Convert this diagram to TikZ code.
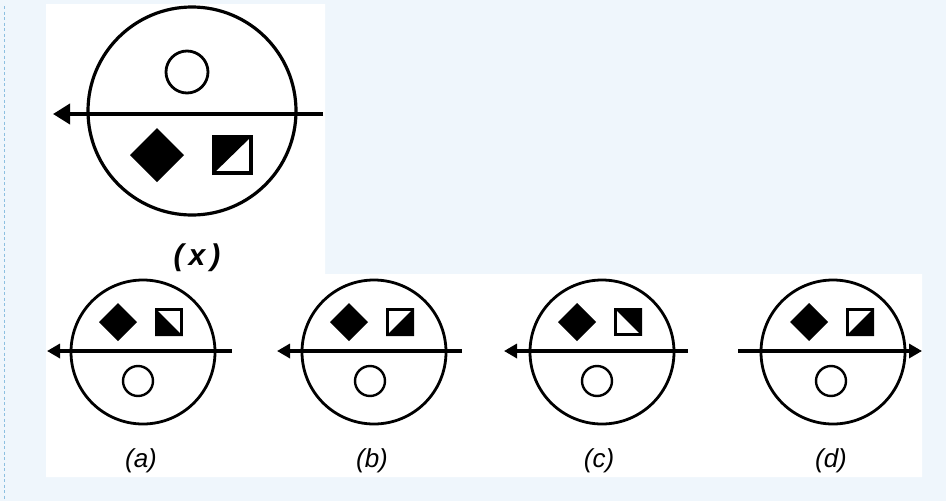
\documentclass[tikz,border=0pt]{standalone}
\usepackage{fontspec}
\setsansfont{Liberation Sans}
\usetikzlibrary{arrows.meta}
\definecolor{bgblue}{HTML}{EFF6FC}
\definecolor{dashblue}{HTML}{8CBFE0}
\tikzset{
  ring/.style={draw=black, line width=2.8pt},
  bigaxis/.style={draw=black, line width=3.8pt, -{Triangle[length=17pt,width=20pt]}},
  axis/.style={draw=black, line width=3.3pt, -{Triangle[length=13pt,width=14pt]}},
  dot/.style={draw=black, line width=2.4pt, fill=white},
  sqline/.style={draw=black, line width=3.4pt},
  lbl/.style={font=\sffamily\itshape\fontsize{26}{28}\selectfont, inner sep=0pt, text=black},
  biglbl/.style={font=\sffamily\bfseries\itshape\fontsize{30}{32}\selectfont, inner sep=0pt, text=black}
}
\begin{document}
\begin{tikzpicture}[x=1pt,y=-1pt]
\useasboundingbox (0,0) rectangle (946,501);
\fill[bgblue] (0,0) rectangle (946,501);
\fill[white] (46,4) -- (325,4) -- (325,274) -- (922,274) -- (922,477) -- (46,477) -- cycle;
\draw[dashblue, line width=1.2pt, dash pattern=on 3pt off 2.5pt] (4.5,6) -- (4.5,501);

% ---- question figure (x)
\begin{scope}[shift={(192,111)}]
  \draw[ring, line width=3.2pt] (0,0) circle (104);
  \draw[dot, line width=2.8pt] (-5,-39) circle (21);
  \draw[bigaxis] (131,3) -- (-139,3);
  \fill[black] (-35,17) -- (-8,44) -- (-35,71) -- (-62,44) -- cycle;
  % white lower-right
  \fill[black] (20,24) -- (61,24) -- (20,64) -- cycle;
  \draw[sqline, line width=4.4pt] (22.2,26.2) rectangle (58.8,61.8);
\end{scope}
\node[biglbl] (lx) at (197,258) {(\,x\,)};

% ---- option (a)
\begin{scope}[shift={(143,352)}]
  \draw[ring] (0,0) circle (72);
  \draw[axis] (89,-1) -- (-96,-1);
  \fill[black] (-25,-49) -- (-6,-30) -- (-25,-11) -- (-44,-30) -- cycle;
  % white upper-right
  \fill[black] (12,-44) -- (40,-16) -- (12,-16) -- cycle;
  \draw[sqline] (13.7,-42.3) rectangle (38.3,-17.7);
  \draw[dot] (-5,29) circle (15);
\end{scope}
\node[lbl] (la) at (141,461) {(a)};

% ---- option (b)
\begin{scope}[shift={(374,352)}]
  \draw[ring] (0,0) circle (72);
  \draw[axis] (88,-1) -- (-97,-1);
  \fill[black] (-25,-49) -- (-6,-30) -- (-25,-11) -- (-44,-30) -- cycle;
  % white upper-left
  \fill[black] (40,-44) -- (40,-16) -- (12,-16) -- cycle;
  \draw[sqline] (13.7,-42.3) rectangle (38.3,-17.7);
  \draw[dot] (-4,29) circle (15);
\end{scope}
\node[lbl] (lb) at (372,461) {(b)};

% ---- option (c)
\begin{scope}[shift={(602,352)}]
  \draw[ring] (0,0) circle (72);
  \draw[axis] (86,-1) -- (-98,-1);
  \fill[black] (-25,-49) -- (-6,-30) -- (-25,-11) -- (-44,-30) -- cycle;
  % white lower-left
  \fill[black] (12,-44) -- (40,-44) -- (40,-16) -- cycle;
  \draw[sqline] (13.7,-42.3) rectangle (38.3,-17.7);
  \draw[dot] (-5,29) circle (15);
\end{scope}
\node[lbl] (lc) at (599,461) {(c)};

% ---- option (d)
\begin{scope}[shift={(833,352)}]
  \draw[ring] (0,0) circle (72);
  \draw[axis] (-95,-1) -- (89,-1);
  \fill[black] (-24,-49) -- (-5,-30) -- (-24,-11) -- (-43,-30) -- cycle;
  % white upper-left
  \fill[black] (41,-44) -- (41,-16) -- (13,-16) -- cycle;
  \draw[sqline] (14.7,-42.3) rectangle (39.3,-17.7);
  \draw[dot] (-2,29) circle (15);
\end{scope}
\node[lbl] (ld) at (831,461) {(d)};
\end{tikzpicture}
\end{document}
